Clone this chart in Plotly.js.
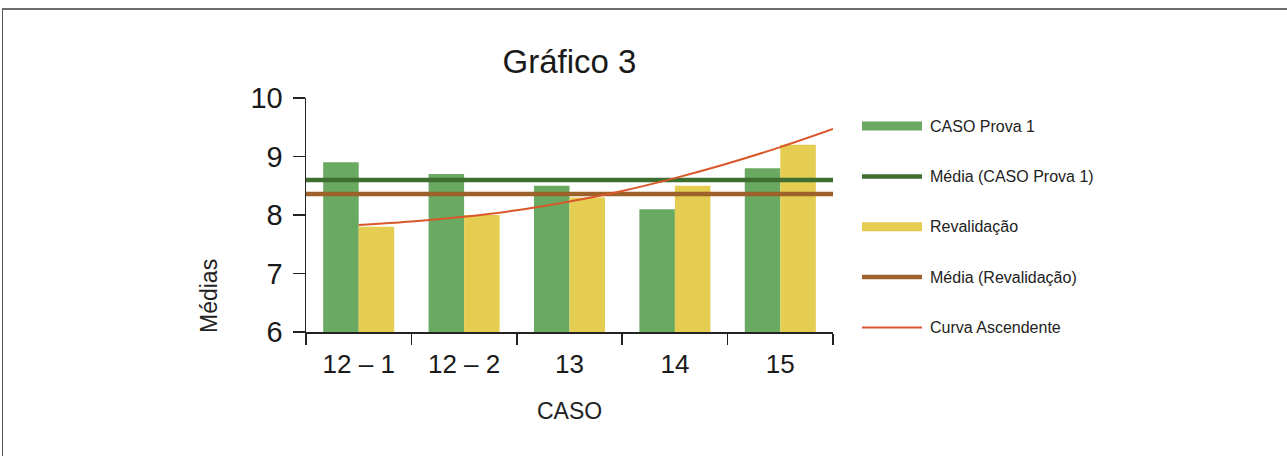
<!DOCTYPE html>
<html>
<head>
<meta charset="utf-8">
<script src="https://cdn.plot.ly/plotly-3.0.1.min.js"></script>
<style>
  html, body { margin: 0; padding: 0; background: #fff; }
  #chart { width: 1287px; height: 456px; }
  #frame { position: absolute; left: 2px; top: 8px; width: 1300px; height: 470px;
           border-top: 2px solid #6e6e6e; border-left: 1px solid #555; pointer-events: none; z-index: 5; }
</style>
</head>
<body>
<div id="frame"></div>
<div id="chart"></div>
<script>
// ---- data ----
const casos = ['12 – 1', '12 – 2', '13', '14', '15'];
const prova1 = [8.9, 8.7, 8.5, 8.1, 8.8];
const revalidacao = [7.8, 8.0, 8.3, 8.5, 9.2];
const mediaProva1 = 8.6;
const mediaRevalidacao = 8.36;
const curvaX = [0, 0.5, 1, 1.5, 2, 2.5, 3, 3.5, 4, 4.5];
const curvaY = [7.83, 7.89, 7.97, 8.08, 8.23, 8.41, 8.63, 8.88, 9.16, 9.47];
const nomes = ['CASO Prova 1', 'Média (CASO Prova 1)', 'Revalidação', 'Média (Revalidação)', 'Curva Ascendente'];

// ---- style ----
const cVerde = '#6aa961', cVerdeEsc = '#3e6e30', cAmarelo = '#e4cd50', cMarrom = '#9d6229', cLaranja = '#d9572b';
const FONT = 'Liberation Sans, Arial, sans-serif';
const L = 306, R = 833, T = 98, B = 332, W = 1287, H = 456;
const px = x => (x - L) / (R - L);
const py = y => (B - y) / (B - T);
const xSpan = [-0.5, casos.length - 0.5];

const traces = [
  { type: 'bar', x: casos, y: prova1, name: nomes[0], marker: { color: cVerde }, showlegend: false, hoverinfo: 'x+y' },
  { type: 'bar', x: casos, y: revalidacao, name: nomes[2], marker: { color: cAmarelo }, showlegend: false, hoverinfo: 'x+y' },
  { type: 'scatter', mode: 'lines', x: xSpan, y: [mediaProva1, mediaProva1], xaxis: 'x2', name: nomes[1],
    line: { color: cVerdeEsc, width: 4.5 }, showlegend: false },
  { type: 'scatter', mode: 'lines', x: xSpan, y: [mediaRevalidacao, mediaRevalidacao], xaxis: 'x2', name: nomes[3],
    line: { color: cMarrom, width: 4.5 }, showlegend: false },
  { type: 'scatter', mode: 'lines', x: curvaX, y: curvaY, xaxis: 'x2', name: nomes[4],
    line: { color: cLaranja, width: 2, shape: 'spline' }, showlegend: false }
];

// custom legend (wide symbols as in reference)
const legRows = [126, 176.5, 226.7, 277, 327.5];
const legStyle = [
  { color: cVerde, w: 9 }, { color: cVerdeEsc, w: 4.5 }, { color: cAmarelo, w: 9 },
  { color: cMarrom, w: 4.5 }, { color: cLaranja, w: 2 }
];
const shapes = [], annotations = [];
nomes.forEach((n, i) => {
  shapes.push({ type: 'line', xref: 'paper', yref: 'paper', x0: px(862), x1: px(922), y0: py(legRows[i]), y1: py(legRows[i]),
    line: { color: legStyle[i].color, width: legStyle[i].w } });
  annotations.push({ xref: 'paper', yref: 'paper', x: px(928), y: py(legRows[i]), xanchor: 'left', yanchor: 'middle',
    text: n, showarrow: false, font: { family: FONT, size: 16, color: '#222' } });
});
annotations.push({ xref: 'paper', yref: 'paper', x: px(209), y: py(296), text: 'Médias', textangle: -90,
  showarrow: false, xanchor: 'center', yanchor: 'middle', font: { family: FONT, size: 23, color: '#222' } });
annotations.push({ xref: 'paper', yref: 'paper', x: 0.5, y: py(411), text: 'CASO',
  showarrow: false, xanchor: 'center', yanchor: 'middle', font: { family: FONT, size: 23, color: '#222' } });

const layout = {
  width: W, height: H,
  margin: { l: L, r: W - R, t: T, b: H - B, pad: 0 },
  paper_bgcolor: '#fff', plot_bgcolor: '#fff',
  font: { family: FONT, color: '#1a1a1a' },
  title: { text: 'Gráfico 3', font: { family: FONT, size: 33, color: '#1a1a1a' },
           x: 0.5, xref: 'paper', xanchor: 'center', y: 1 - 61 / H, yref: 'container', yanchor: 'middle' },
  barmode: 'group', bargap: 0.326, bargroupgap: 0,
  showlegend: false,
  xaxis: { type: 'category', tickson: 'boundaries', ticks: 'outside', ticklen: 11, tickwidth: 1.5, tickcolor: '#222',
           showline: true, linecolor: '#222', linewidth: 1.5, showgrid: false, zeroline: false,
           tickfont: { family: FONT, size: 26, color: '#1a1a1a' }, ticklabelstandoff: 8 },
  xaxis2: { overlaying: 'x', range: xSpan, visible: false, showgrid: false, zeroline: false, fixedrange: true },
  yaxis: { range: [6, 10], dtick: 1, ticks: 'outside', ticklen: 12, tickwidth: 1.5, tickcolor: '#222',
           showline: true, linecolor: '#222', linewidth: 1.5, showgrid: false, zeroline: false,
           tickfont: { family: FONT, size: 29, color: '#1a1a1a' }, ticklabelstandoff: 4 },
  shapes: shapes,
  annotations: annotations
};

Plotly.newPlot('chart', traces, layout, { displayModeBar: false, staticPlot: true });
</script>
</body>
</html>
